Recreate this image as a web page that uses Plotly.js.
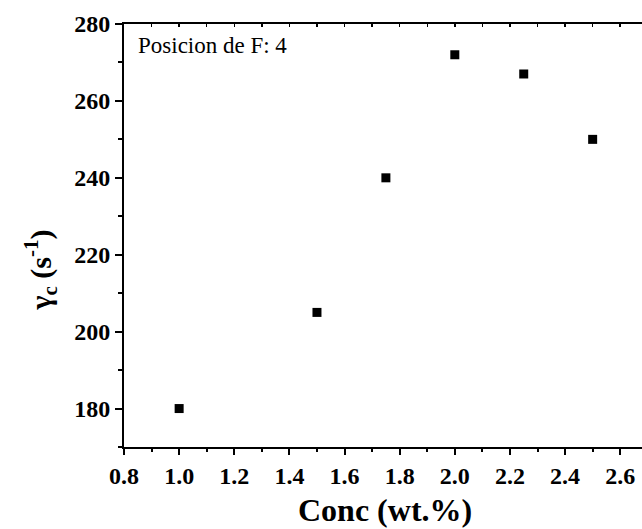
<!DOCTYPE html>
<html>
<head>
<meta charset="utf-8">
<script src="https://cdn.plot.ly/plotly-3.0.1.min.js"></script>
<style>html,body{margin:0;padding:0;background:#fff;}#chart{width:642px;height:529px;}</style>
</head>
<body>
<div id="chart"></div>
<script>
const conc = [1.0, 1.5, 1.75, 2.0, 2.25, 2.5];
const gammaC = [180, 205, 240, 272, 267, 250];
const xTitle = "<b>Conc (wt.%)</b>";
const yTitle = "<b>γ<sub>c</sub> (s<sup>-1</sup>)</b>";
const note = "Posicion de F: 4";

const font = "'Liberation Serif', 'Times New Roman', Times, serif";

const trace = {
  x: conc, y: gammaC, type: 'scatter', mode: 'markers',
  marker: {symbol: 'square', size: 9, color: '#000'},
  showlegend: false, hoverinfo: 'none'
};
const topTrace = {x: conc, y: gammaC, xaxis: 'x2', yaxis: 'y', type: 'scatter', mode: 'none', showlegend: false, hoverinfo: 'none'};

const layout = {
  width: 642, height: 529,
  margin: {l: 124, r: 0, t: 24, b: 82, pad: 0},
  paper_bgcolor: '#fff', plot_bgcolor: '#fff',
  font: {family: font, color: '#000'},
  xaxis: {
    range: [0.8, 2.679], dtick: 0.2, tick0: 0.8, tickformat: '.1f',
    showgrid: false, zeroline: false,
    showline: true, linewidth: 2, linecolor: '#000',
    ticks: 'outside', ticklen: 6, tickwidth: 2, tickcolor: '#000',
    minor: {ticks: 'outside', dtick: 0.1, ticklen: 3, tickwidth: 2, tickcolor: '#000', showgrid: false},
    tickfont: {family: font, size: 24, color: '#000', weight: 'bold'}
  },
  xaxis2: {
    overlaying: 'x', side: 'top', matches: 'x', anchor: 'y',
    showgrid: false, zeroline: false, showticklabels: false,
    showline: true, linewidth: 2, linecolor: '#000',
    ticks: 'inside', ticklen: 3, tickwidth: 1.5, tickcolor: '#000', dtick: 0.1, tick0: 0.8
  },
  yaxis: {
    range: [170, 280], dtick: 20, tick0: 180,
    showgrid: false, zeroline: false,
    showline: true, linewidth: 2, linecolor: '#000',
    ticks: 'outside', ticklen: 7, tickwidth: 2, tickcolor: '#000',
    minor: {ticks: 'outside', dtick: 10, ticklen: 4, tickwidth: 2, tickcolor: '#000', showgrid: false},
    tickfont: {family: font, size: 24, color: '#000', weight: 'bold'}
  },
  annotations: [
    {text: note, xref: 'paper', yref: 'paper', x: 0.0237, y: 0.948, xanchor: 'left', yanchor: 'middle',
     showarrow: false, font: {family: font, size: 23, color: '#000'}},
    {text: xTitle, xref: 'paper', yref: 'paper', x: 0.504, y: -0.15, xanchor: 'center', yanchor: 'middle',
     showarrow: false, font: {family: font, size: 32, color: '#000'}},
    {text: yTitle, xref: 'paper', yref: 'paper', x: -0.1615, y: 0.418, xanchor: 'center', yanchor: 'middle',
     textangle: -90, showarrow: false, font: {family: font, size: 30, color: '#000'}}
  ]
};

Plotly.newPlot('chart', [trace, topTrace], layout, {staticPlot: true, displayModeBar: false});
</script>
</body>
</html>
